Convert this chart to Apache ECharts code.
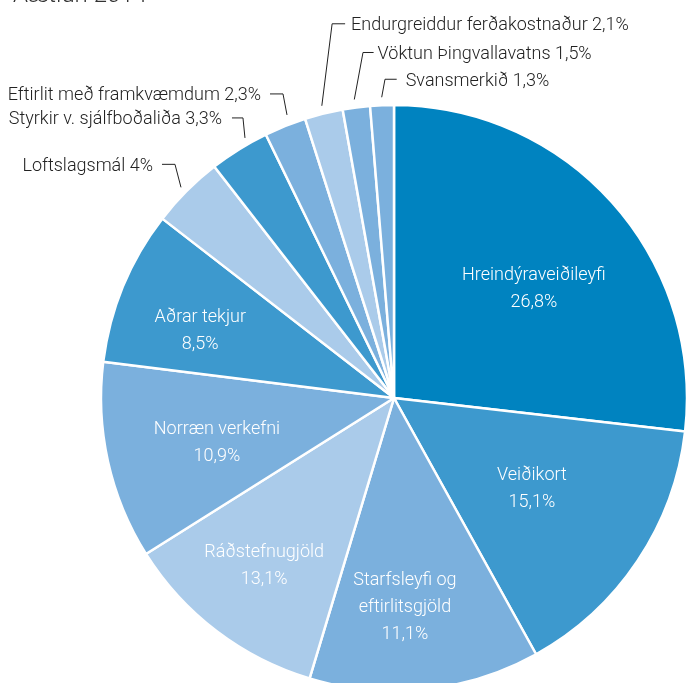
<!DOCTYPE html>
<html><head><meta charset="utf-8">
<script src="https://cdn.jsdelivr.net/npm/echarts@6/dist/echarts.min.js"></script>
<style>html,body{margin:0;padding:0;background:#fff}#c{width:693px;height:683px}</style>
</head><body><div id="c"></div>
<script>
const titleText = 'Áætlun 2014';
const categories = ['Hreindýraveiðileyfi','Veiðikort','Starfsleyfi og\neftirlitsgjöld','Ráðstefnugjöld','Norræn verkefni','Aðrar tekjur','Loftslagsmál','Styrkir v. sjálfboðaliða','Eftirlit með framkvæmdum','Endurgreiddur ferðakostnaður','Vöktun Þingvallavatns','Svansmerkið'];
// slice sizes as drawn in the picture
const values = [26.8,15.1,12.7,11.4,10.9,8.5,4,3.3,2.3,2.1,1.5,1.3];
// percentages as printed on the labels
const printedPercents = ['26,8%','15,1%','11,1%','13,1%','10,9%','8,5%','4%','3,3%','2,3%','2,1%','1,5%','1,3%'];
const colors = ['#0083C0','#3D99CE','#7BB0DD','#AACBEA','#7BB0DD','#3D99CE','#AACBEA','#3D99CE','#7BB0DD','#AACBEA','#7BB0DD','#7BB0DD'];

const FONT = 'Roboto, "Liberation Sans", sans-serif';
const WEIGHT = 300;
const CX = 394, CY = 398, R = 293;
const INNER_COUNT = 6;
const innerR = [179, 164, 207, 210, 182, 206];
const innerShiftDeg = [3.1, -1, 3.1, 0.9, -0.9, -2.6];
// outer leader styling: [startDx, startDy, tiltX, rise, arm, gap, side]
const leader = {
  6: [0, 2, -6, 23, 13, 9, -1],
  7: [10, -4.5, -2, 20, 11, 10, -1],
  8: [4.8, -3.6, -4, 21, 13, 9, -1],
  9: [0, 0, 10.3, 82, 13, 6, 1],
  10: [-1, 0, 8.7, 47, 10.6, 4, 1],
  11: [0, 0, 3.3, 18, 11.7, 9, 1]
};
const total = values.reduce((a, b) => a + b, 0);
const midAngle = [];
{ let acc = 0; values.forEach(v => { midAngle.push((acc + v / 2) / total * 2 * Math.PI); acc += v; }); }

const data = categories.map((name, i) => {
  const inner = i < INNER_COUNT;
  return {
    name, value: values[i],
    itemStyle: { color: colors[i] },
    label: inner ? {
      position: 'inside', color: '#fff', fontSize: 18, fontWeight: WEIGHT, lineHeight: 27, fontFamily: FONT,
      formatter: p => p.name + '\n' + printedPercents[p.dataIndex]
    } : {
      position: 'outside', color: '#222', fontSize: 18, fontWeight: WEIGHT, fontFamily: FONT,
      formatter: p => p.name + ' ' + printedPercents[p.dataIndex]
    },
    labelLine: { show: !inner, lineStyle: { color: '#222', width: 1 }, length: 10, length2: 10 }
  };
});

const chart = echarts.init(document.getElementById('c'), null, { renderer: 'canvas' });
chart.setOption({
  animation: false,
  backgroundColor: '#fff',
  graphic: [{ type: 'text', left: 13, top: -16, style: { text: titleText, fontSize: 24, fontWeight: WEIGHT, fontFamily: FONT, fill: '#333' } }],
  series: [{
    type: 'pie',
    center: [CX, CY],
    radius: R,
    startAngle: 90,
    clockwise: true,
    avoidLabelOverlap: false,
    itemStyle: { borderColor: '#fff', borderWidth: 2.5 },
    data,
    labelLayout: function (params) {
      const i = params.dataIndex;
      const th = midAngle[i];
      if (i < INNER_COUNT) {
        const a = th + innerShiftDeg[i] * Math.PI / 180;
        return { x: CX + innerR[i] * Math.sin(a), y: CY - innerR[i] * Math.cos(a) + 2.5, align: 'center', verticalAlign: 'middle' };
      }
      const [sdx, sdy, tx, rise, arm, gap, side] = leader[i];
      const sx = CX + (R + 8) * Math.sin(th) + sdx, sy = CY - (R + 8) * Math.cos(th) + sdy;
      const bx = sx + tx, by = sy - rise;
      const ex = bx + side * arm, ey = by;
      return {
        x: ex + side * gap, y: ey + 2,
        align: side < 0 ? 'right' : 'left', verticalAlign: 'middle',
        labelLinePoints: [[sx, sy], [bx, by], [ex, ey]]
      };
    }
  }]
});
</script></body></html>
